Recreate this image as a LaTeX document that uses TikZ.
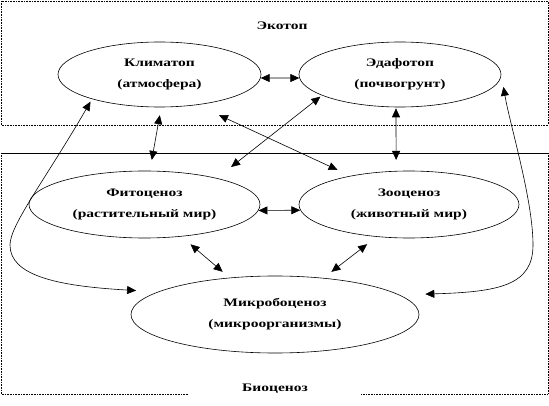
\documentclass[tikz,border=0pt]{standalone}
\usepackage{fontspec}
\setmainfont{Liberation Serif}[FakeStretch=1.35]
\usetikzlibrary{shapes.geometric,arrows.meta}
\begin{document}
\begin{tikzpicture}[x=1pt,y=-1pt,>={Triangle[length=9pt,width=8pt]},line width=0.6pt,
        eco/.style={ellipse,draw,inner sep=0pt,align=center,font=\bfseries\fontsize{11.5}{21}\selectfont},
        lbl/.style={font=\bfseries\fontsize{11.5}{21}\selectfont}]
        \useasboundingbox(0,0)rectangle(549,406);
        \draw[densely dotted](1,1)rectangle(548,125);
        \draw[densely dotted](188,394)--(1,394)--(1,153);
        \draw(1,153)--(548,153);
        \draw[densely dotted](548,153)--(548,394)--(361,394);
        \node[lbl](ekotop)at(282,26){Экотоп};
        \node[lbl](biocen)at(275,389){Биоценоз};
        \node[eco,minimum width=203pt,minimum height=65pt](klim)at(159.5,74.5){Климатоп\\(атмосфера)};
        \node[eco,minimum width=202pt,minimum height=65pt](edaf)at(400,74.5){Эдафотоп\\(почвогрунт)};
        \node[eco,minimum width=231pt,minimum height=67pt](fito)at(144.5,204.5){Фитоценоз\\(растительный мир)};
        \node[eco,minimum width=220pt,minimum height=67pt](zoo)at(409,204.5){Зооценоз\\(животный мир)};
        \node[eco,minimum width=288pt,minimum height=77pt](mikro)at(275,314.5){Микробоценоз\\(микроорганизмы)};
        \draw[<->](klim.-2)--(edaf.182);
        \draw[<->](fito.-3)--(zoo.183);
        \draw[<->,shorten <=8pt,shorten >=11pt](klim.-87)--(fito.81);
        \draw[<->,shorten <=24pt,shorten >=14pt](klim.-39)--(zoo.154);
        \draw[<->,shorten <=2pt,shorten >=18pt](edaf.195)--(fito.20);
        \draw[<->,shorten <=1pt,shorten >=11pt](edaf.-97)--(zoo.111);
        \draw[<->,shorten <=12pt,shorten >=9pt](fito.-41)--(mikro.141);
        \draw[<->,shorten <=12pt,shorten >=10pt](zoo.-135)--(mikro.37);
        \draw[<->,shorten <=3pt,shorten >=22pt](klim.200)..controls(45,180)and(10,225)..(10,245)
            ..controls(10,275)and(55,286)..(mikro.169);
        \draw[<->,shorten <=12.5pt,shorten >=26pt](edaf.east)..controls(510,125)and(533,200)..(533,245)
            ..controls(533,285)and(500,292)..(mikro.9);
\end{tikzpicture}
\end{document}
